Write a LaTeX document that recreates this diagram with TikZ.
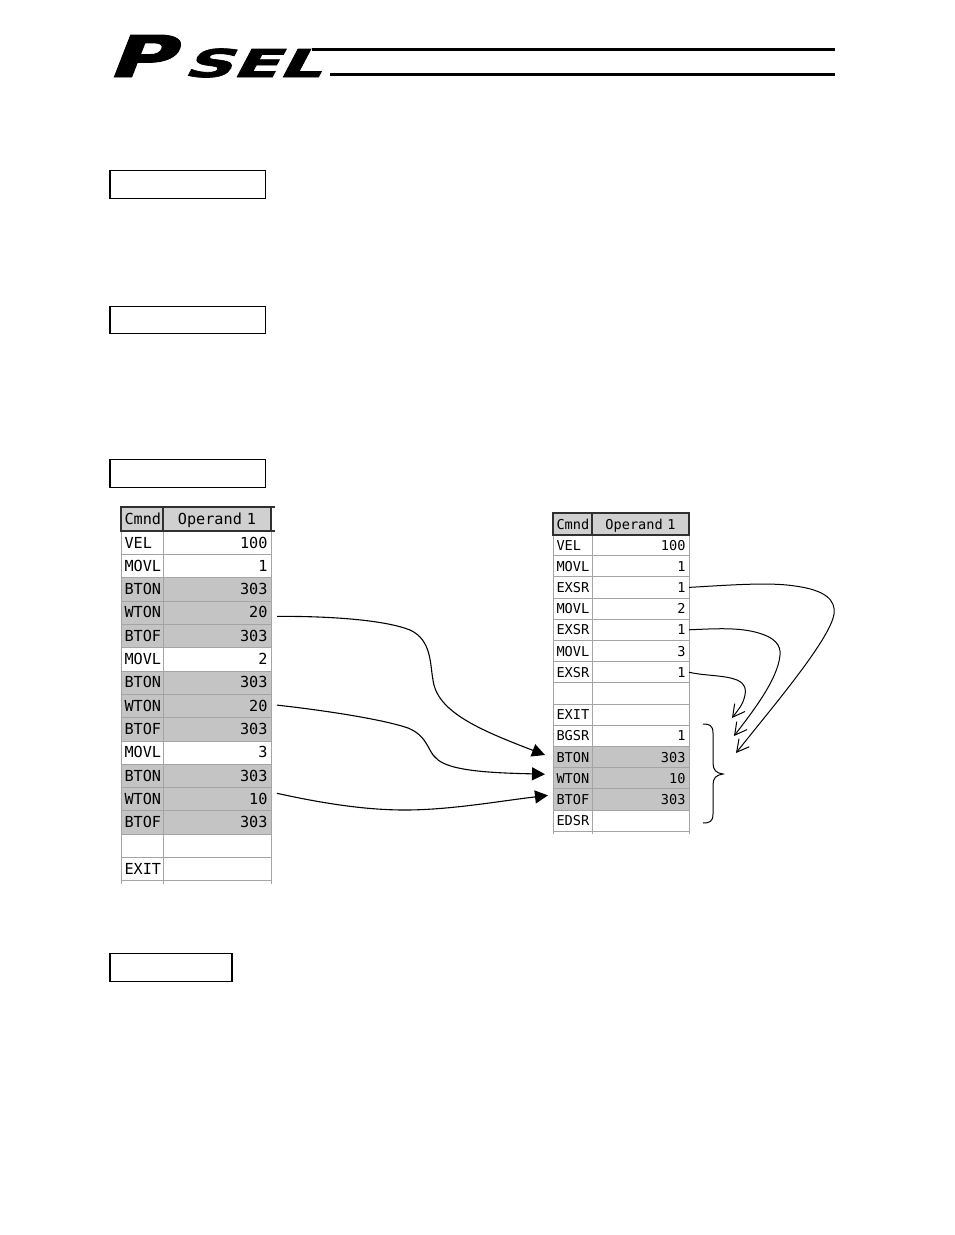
\documentclass[tikz,border=0pt]{standalone}
\usepackage{fontspec}
\usetikzlibrary{arrows.meta,calc}
\newfontfamily\cellfont{DejaVu Sans Mono}
\newfontfamily\logofont{DejaVu Sans}[BoldFeatures={FakeBold=1.6}]
\definecolor{rowp}{gray}{1}
\definecolor{rowh}{HTML}{C4C4C4}
\definecolor{headfill}{HTML}{D0D0D0}
\definecolor{gridc}{HTML}{A4A4A4}
\definecolor{headline}{HTML}{303030}
\tikzset{
  x=1pt,y=-1pt,
  titlebox/.style={draw=black,line width=1.2pt,minimum height=27.5pt,inner sep=0pt,outer sep=0pt},
  cellbase/.style={draw=gridc,line width=1pt,inner xsep=3.5pt,inner ysep=0pt,outer sep=0pt,text height=10pt,text depth=0pt},
  lfont/.style={font=\cellfont\fontsize{15.2}{15.2}\selectfont},
  rfont/.style={font=\cellfont\fontsize{13.6}{13.6}\selectfont},
  lcmd/.style={cellbase,lfont,minimum width=42pt,text width=35pt,minimum height=23.3pt,align=left},
  lval/.style={cellbase,lfont,minimum width=108pt,text width=101pt,minimum height=23.3pt,align=right},
  rcmd/.style={cellbase,rfont,minimum width=39pt,text width=32pt,minimum height=21.2pt,align=left},
  rval/.style={cellbase,rfont,minimum width=97pt,text width=90pt,minimum height=21.2pt,align=right},
  headcell/.style={draw=headline,line width=1.6pt,fill=headfill,align=center},
  flow/.style={draw=black,line width=1.1pt,-{Triangle[length=13pt,width=13pt]}},
  call/.style={draw=black,line width=1pt,-{Straight Barb[length=12pt,width=13pt,line width=1pt]}},
  stub/.style={draw=gridc,line width=1pt},
  logotext/.style={anchor=base west,inner sep=0pt,transform shape,text=black},
}
\begin{document}
\begin{tikzpicture}
\useasboundingbox (0,0) rectangle (954,1235);
\fill[white] (0,0) rectangle (954,1235);
% logo
\node[logotext,font=\logofont\bfseries\fontsize{57.6}{57.6}\selectfont,xshift=106pt,yshift=-77pt,xscale=1.56,xslant=.25] (logoP) at (0,0) {P};
\node[logotext,font=\logofont\bfseries\fontsize{38.4}{38.4}\selectfont,xshift=182pt,yshift=-77pt,xscale=1.76,xslant=.3] (logoS) at (0,0) {SEL};
\coordinate (ruleA) at (312,49);
\coordinate (ruleB) at (835,49);
\coordinate (ruleC) at (330,74.5);
\coordinate (ruleD) at (835,74.5);
\draw[line width=3pt] (ruleA) -- (ruleB);
\draw[line width=3pt] (ruleC) -- (ruleD);
% title boxes
\node[titlebox,minimum width=155.5pt] (box1) at (187.75,184.5) {};
\node[titlebox,minimum width=155.5pt] (box2) at (187.75,320) {};
\node[titlebox,minimum width=155.5pt] (box3) at (187.75,473.5) {};
\node[titlebox,minimum width=122pt] (box4) at (171,967.5) {};
% left table
\foreach \i/\c/\v/\s in {1/VEL/100/rowp,2/MOVL/1/rowp,3/BTON/303/rowh,4/WTON/20/rowh,5/BTOF/303/rowh,6/MOVL/2/rowp,7/BTON/303/rowh,8/WTON/20/rowh,9/BTOF/303/rowh,10/MOVL/3/rowp,11/BTON/303/rowh,12/WTON/10/rowh,13/BTOF/303/rowh,14/{}/{}/rowp,15/EXIT/{}/rowp}{
  \pgfmathsetmacro\yy{543+23.3*(\i-1)}
  \node[lcmd,fill=\s] (Lc\i) at (142,\yy) {\c};
  \node[lval,fill=\s] (Lv\i) at (217,\yy) {\v};
}
\draw[stub] (Lc15.south west) -- ++(0,3);
\draw[stub] (Lc15.south east) -- ++(0,3);
\draw[stub] (Lv15.south east) -- ++(0,3);
\node[lcmd,headcell,minimum height=24pt] (Lhc) at (142,519) {Cmnd};
\node[lval,headcell,minimum height=24pt] (Lhv) at (217,519) {Operand 1};
\coordinate (Lstub) at (275,507);
\coordinate (Lstubb) at (275,531);
\draw[headline,line width=1.6pt] (Lhv.north east) -- (Lstub);
\draw[headline,line width=1.6pt] (Lhv.south east) -- (Lstubb);
% right table
\foreach \i/\c/\v/\s in {1/VEL/100/rowp,2/MOVL/1/rowp,3/EXSR/1/rowp,4/MOVL/2/rowp,5/EXSR/1/rowp,6/MOVL/3/rowp,7/EXSR/1/rowp,8/{}/{}/rowp,9/EXIT/{}/rowp,10/BGSR/1/rowp,11/BTON/303/rowh,12/WTON/10/rowh,13/BTOF/303/rowh,14/EDSR/{}/rowp}{
  \pgfmathsetmacro\yy{545+21.2*(\i-1)}
  \node[rcmd,fill=\s] (Rc\i) at (572.5,\yy) {\c};
  \node[rval,fill=\s] (Rv\i) at (640.5,\yy) {\v};
}
\draw[stub] (Rc14.south west) -- ++(0,3);
\draw[stub] (Rc14.south east) -- ++(0,3);
\draw[stub] (Rv14.south east) -- ++(0,3);
\node[rcmd,headcell,minimum height=22pt] (Rhc) at (572.5,524) {Cmnd};
\node[rval,headcell,minimum height=22pt] (Rhv) at (640.5,524) {Operand 1};
% flows, left table to subroutine
\draw[flow] ($(Lv4.east)+(6,3.5)$) .. controls (330,616) and (385,620) .. (410,630) .. controls (432,640) and (430,665) .. (433,680) .. controls (437,712) and (480,730) .. ($(Rc11.west)+(-8,-2)$);
\draw[flow] ($(Lv8.east)+(6,-1)$) .. controls (330,711) and (385,720) .. (408,728) .. controls (428,736) and (428,752) .. (436,758) .. controls (448,772) and (500,773) .. ($(Rc12.west)+(-8,-4)$);
\draw[flow] ($(Lv12.east)+(6,-6)$) .. controls (330,805) and (370,810) .. (405,810) .. controls (450,810) and (500,801) .. ($(Rc13.west)+(-5,-4)$);
% calls, main program to subroutine
\coordinate (hitA) at (736,753);
\coordinate (hitB) at (734,736);
\coordinate (hitC) at (732,718);
\draw[call] (Rv3.east) .. controls (730,585) and (770,582) .. (795,586) .. controls (825,590) and (836,600) .. (834,614) .. controls (830,640) and (770,710) .. (hitA);
\draw[call] (Rv5.east) .. controls (710,629) and (735,627) .. (755,632) .. controls (775,637) and (781,645) .. (780,655) .. controls (778,680) and (750,715) .. (hitB);
\draw[call] (Rv7.east) .. controls (705,676) and (725,675) .. (737,680) .. controls (746,684) and (746,690) .. (745,695) .. controls (743,705) and (738,710) .. (hitC);
% brace
\coordinate (braceTop) at (703,724);
\coordinate (braceTip) at (723,774);
\coordinate (braceEnd) at (703,823);
\draw[black,line width=1pt] (braceTop) .. controls (709,724) and (713,725) .. (713,733) -- (713,763) .. controls (713,770) and (716,773) .. (braceTip) .. controls (716,775) and (713,778) .. (713,785) -- (713,814) .. controls (713,822) and (709,823) .. (braceEnd);
\end{tikzpicture}
\end{document}
